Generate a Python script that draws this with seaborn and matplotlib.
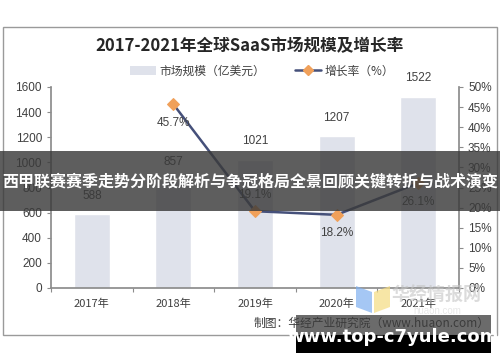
import matplotlib
matplotlib.use("Agg")
import matplotlib.pyplot as plt
import seaborn as sns
import pandas as pd
from matplotlib.patches import Rectangle, Patch, Polygon
from matplotlib.lines import Line2D

years = ["2017年", "2018年", "2019年", "2020年", "2021年"]
market_size = [588, 857, 1021, 1207, 1522]
growth_years = ["2018年", "2019年", "2020年", "2021年"]
growth_rate = [45.7, 19.1, 18.2, 26.1]
left_ticks = [0, 200, 400, 600, 800, 1000, 1200, 1400, 1600]
right_ticks = [0, 5, 10, 15, 20, 25, 30, 35, 40, 45, 50]

title = "2017-2021年全球SaaS市场规模及增长率"
legend_bar = "市场规模（亿美元）"
legend_line = "增长率（%）"
source = "制图：华经产业研究院（www.huaon.com）"
banner = "西甲联赛赛季走势分阶段解析与争冠格局全景回顾关键转折与战术演变"
watermark = "www.top-c7yule.com"
logo_text = "华经情报网"
logo_sub = "huaon.com"

sns.set_theme(style="white")
plt.rcParams['font.family'] = ['Noto Sans CJK SC', 'DejaVu Sans']
NUM_FONT = ["Liberation Sans", "DejaVu Sans"]

fig = plt.figure(figsize=(5, 3.62), dpi=100)
W, H = 500, 362
def fx(x): return x / W
def fy(y): return 1 - y / H

# outer frame
fig.patches.append(Rectangle((fx(3), fy(335)), fx(494), 308 / H, transform=fig.transFigure,
                             fill=False, edgecolor="#9a9a9a", linewidth=1.0))

ax = fig.add_axes([fx(51), fy(288), fx(459 - 51), (288 - 87) / H])
df = pd.DataFrame({"year": years, "size": market_size})
sns.barplot(data=df, x="year", y="size", ax=ax, color="#dfe2eb", saturation=1, width=0.44)
ax.set_xlim(-0.5, 4.5)
ax.set_ylim(0, 1600)
ax.set_yticks(left_ticks)
ax.set_xlabel("")
ax.set_ylabel("")
for i, v in enumerate(market_size):
    ax.annotate(str(v), (i, v), xytext=(0, 9), textcoords="offset points",
                ha="center", va="bottom", fontsize=8.5, color="#404040", family=NUM_FONT)

ax2 = ax.twinx()
gdf = pd.DataFrame({"x": [years.index(y) for y in growth_years], "g": growth_rate})
sns.lineplot(data=gdf, x="x", y="g", ax=ax2, color="#45507a", linewidth=1.8,
             marker="D", markersize=6, markerfacecolor="#f0a05a", markeredgecolor="#f0a05a")
ax2.set_ylim(0, 50)
ax2.set_yticks(right_ticks)
ax2.set_yticklabels([f"{t}%" for t in right_ticks])
ax2.set_ylabel("")
ax2.set_xlabel("")
ax2.set_xlim(-0.5, 4.5)
label_pos = ["below", "above", "below", "below"]
for x, g, p in zip(gdf["x"], growth_rate, label_pos):
    off = -9 if p == "below" else 7
    ax2.annotate(f"{g}%", (x, g), xytext=(0, off), textcoords="offset points",
                 ha="center", va="top" if p == "below" else "bottom",
                 fontsize=8.5, color="#404040", family=NUM_FONT)

axis_col = "#8c8c8c"
for a in (ax, ax2):
    for s in a.spines.values():
        s.set_visible(False)
    a.tick_params(axis="y", colors=axis_col, labelcolor="#404040", labelsize=8.5, length=3, width=0.8)
ax.spines["left"].set_visible(True)
ax.spines["left"].set_color(axis_col)
ax.spines["bottom"].set_visible(True)
ax.spines["bottom"].set_color(axis_col)
ax2.spines["right"].set_visible(True)
ax2.spines["right"].set_color(axis_col)
ax.set_xticks(range(len(years)))
ax.set_xticklabels(years)
ax.tick_params(axis="x", length=0, labelsize=8, labelcolor="#404040", pad=8)
ax.set_xticks([-0.5 + i for i in range(6)], minor=True)
ax.tick_params(axis="x", which="minor", length=3, width=0.8, color=axis_col, bottom=True)
for a in (ax, ax2):
    for lbl in a.get_yticklabels():
        lbl.set_family(NUM_FONT)
ax2.tick_params(axis="x", bottom=False, labelbottom=False)
ax.grid(False)
ax2.grid(False)

fig.text(0.5, fy(46), title, ha="center", va="center", fontsize=12, fontweight="bold", color="#262626")

handles = [Patch(facecolor="#dfe2eb", edgecolor="none"),
           Line2D([0], [0], color="#45507a", lw=1.8, marker="D", markersize=5,
                  markerfacecolor="#f0a05a", markeredgecolor="#f0a05a")]
fig.legend(handles, [legend_bar, legend_line], loc="center", bbox_to_anchor=(fx(262), fy(71)),
           ncol=2, frameon=False, fontsize=8.5, columnspacing=2.5, handlelength=2.2,
           handletextpad=0.3, labelcolor="#404040")

fig.text(fx(490), fy(323), source, ha="right", va="center", fontsize=8.5, color="#404040")

# faint logo watermark
fig.patches.append(Polygon([(fx(356), fy(286)), (fx(372), fy(292)), (fx(372), fy(313)), (fx(356), fy(307))],
                           closed=True, transform=fig.transFigure, facecolor="#7fb0f0",
                           edgecolor="none", alpha=0.7, zorder=5))
fig.patches.append(Polygon([(fx(374), fy(292)), (fx(390), fy(286)), (fx(390), fy(307)), (fx(374), fy(313))],
                           closed=True, transform=fig.transFigure, facecolor="#f5dc80",
                           edgecolor="none", alpha=0.7, zorder=5))
fig.text(fx(437), fy(295), logo_text, ha="center", va="center", fontsize=13,
         fontweight="bold", color="#c4c4c4", alpha=0.6, zorder=5)
fig.text(fx(437), fy(311), logo_sub, ha="center", va="center", fontsize=7,
         color="#d8d8d8", alpha=0.6, zorder=5, family=NUM_FONT)

# banner
fig.patches.append(Rectangle((0, fy(211)), 1, 60 / H, transform=fig.transFigure,
                             facecolor="#3a3a3a", alpha=0.82, edgecolor="none", zorder=10))
fig.text(0.5, fy(181), banner, ha="center", va="center", fontsize=11.5, fontweight="bold",
         color="white", zorder=11)

# bottom watermark
fig.patches.append(Rectangle((fx(296), fy(335)), fx(195), 20 / H, transform=fig.transFigure,
                             facecolor="#3a3a3a", alpha=0.75, edgecolor="none", zorder=10))
fig.patches.append(Rectangle((fx(296), fy(353)), fx(195), 18 / H, transform=fig.transFigure,
                             facecolor="black", edgecolor="none", zorder=10))
fig.text(fx(393), fy(337), watermark, ha="center", va="center", fontsize=13, fontweight="bold",
         color="white", zorder=11, family="DejaVu Sans")

fig.savefig("out.png", dpi=100)
